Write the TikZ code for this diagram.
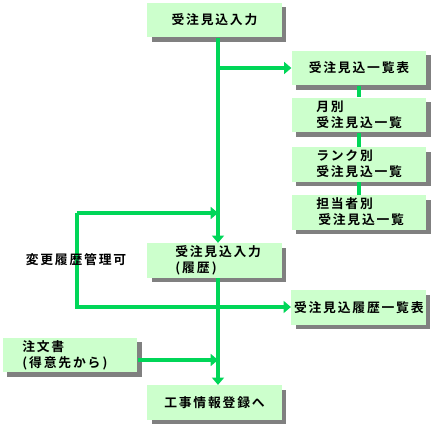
\documentclass[tikz,border=0pt]{standalone}
\usepackage{fontspec}
\usetikzlibrary{arrows.meta,shadows}
\newfontfamily\jp[LetterSpace=14,BoldFont={Noto Sans CJK JP Bold}]{Noto Sans CJK JP}
\definecolor{lgreen}{RGB}{0,214,88}
\definecolor{boxfill}{RGB}{204,255,204}
\definecolor{shade}{RGB}{128,128,128}
\tikzset{
  boxn/.style={fill=boxfill, minimum width=101pt, minimum height=26pt, inner sep=0pt,
    general shadow={fill=shade, shadow xshift=3.4pt, shadow yshift=-3.4pt},
    font=\jp\bfseries\fontsize{9.6pt}{11.8pt}\selectfont},
  conn/.style={draw=lgreen, line width=3pt},
  arr/.style={conn, -{Triangle[width=9pt,length=5.5pt]}},
  lbl/.style={font=\jp\bfseries\fontsize{9.6pt}{11.8pt}\selectfont, inner sep=0pt}
}
\begin{document}
\begin{tikzpicture}[x=0.75pt,y=-0.75pt]
\useasboundingbox (0,0) rectangle (433,428);
% boxes
\node[boxn] (b1) at (214.5,20) {受注見込入力};
\node[boxn] (l1) at (359,68) {受注見込一覧表};
\node[boxn] (l2) at (359,115) {};
\node[boxn] (l3) at (359,164.5) {};
\node[boxn] (l4) at (359,212.5) {};
\node[boxn] (hb) at (214.5,260.5) {};
\node[boxn] (hl) at (358.5,307.5) {\hspace*{0.5pt}受注見込履歴一覧表};
\node[boxn] (ob) at (70,355) {};
\node[boxn] (kb) at (214.5,402.5) {工事情報登録へ};
% multi-line texts
\node[lbl, anchor=west, align=left] (t2) at (316,115) {月別\\受注見込一覧};
\node[lbl, anchor=west, align=left] (t3) at (316,164) {ランク別\\受注見込一覧};
\node[lbl, anchor=west, align=left] (t4) at (316,212) {担当者別\\\hspace*{1.5pt}受注見込一覧};
\node[lbl, anchor=west, align=left] (th) at (175,260.5) {受注見込入力\\(\,履歴\,)};
\node[lbl, anchor=west, align=left] (to) at (22,355) {注文書\\(\,得意先から\,)};
% coordinates
\coordinate (mx) at (218,0);
\coordinate (lpa) at (77,213);
\coordinate (lpb) at (77,307);
\coordinate (oy) at (0,360);
% connectors
\draw[arr] (b1.south -| mx) -- (hb.north -| mx);
\draw[arr] (mx |- l1.west) -- (l1.west);
\draw[conn] (l1.south) -- (l2.north);
\draw[conn] (l2.south) -- (l3.north);
\draw[conn] (l3.south) -- (l4.north);
\draw[arr] (lpa) -- (lpa -| mx);
\draw[arr] (lpa) -- (lpb) -- (hl.west |- lpb);
\draw[arr] (hb.south -| mx) -- (kb.north -| mx);
\draw[arr] (ob.east |- oy) -- (mx |- oy);
% label over the loop line
\node[lbl] (chg) at (76,260) {変更履歴管理可};
\end{tikzpicture}
\end{document}
